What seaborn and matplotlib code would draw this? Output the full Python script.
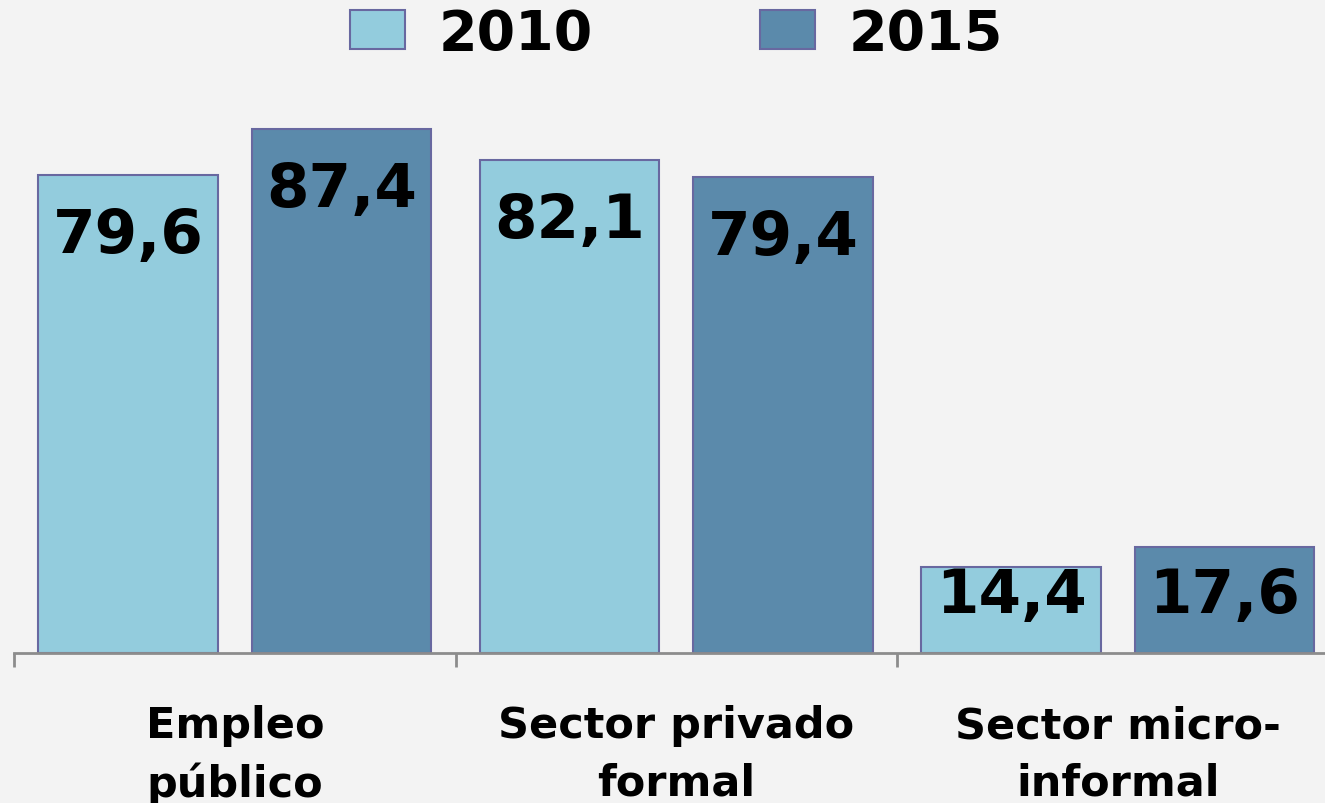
import seaborn as sns
import matplotlib.pyplot as plt
import pandas as pd

# data
categories = ["Empleo\npúblico", "Sector privado\nformal", "Sector micro-\ninformal"]
years = ["2010", "2015"]
vals_2010 = [79.6, 82.1, 14.4]
vals_2015 = [87.4, 79.4, 17.6]

df = pd.DataFrame({
    "cat": categories * 2,
    "year": [years[0]] * 3 + [years[1]] * 3,
    "val": vals_2010 + vals_2015,
})

bg = "#F3F3F3"
colors = {"2010": "#93CCDD", "2015": "#5B8AAB"}
edge = "#6868A0"

sns.set_theme(style="white")
plt.rcParams["font.family"] = ["DejaVu Sans"]

fig = plt.figure(figsize=(13.25, 8.04), dpi=100)
fig.patch.set_facecolor(bg)
W, H = 1325, 804
ax = fig.add_axes([14 / W, (H - 654) / H, 1324.5 / W, 600 / H])
ax.set_facecolor(bg)

sns.barplot(data=df, x="cat", y="val", hue="year", palette=colors,
            width=0.967, gap=0.16, edgecolor=edge, linewidth=1.5,
            saturation=1, ax=ax, legend=True)

ax.set_xlim(-0.5, 2.5)
ax.set_ylim(0, 100)
ax.set_xlabel("")
ax.set_ylabel("")
ax.set_yticks([])

# value labels inside bars
for cont in ax.containers:
    for bar in cont:
        v = bar.get_height()
        cx = bar.get_x() + bar.get_width() / 2
        ax.text(cx, max(v - 10.1, 9.6), f"{v:.1f}".replace(".", ","),
                ha="center", va="center", fontsize=44, fontweight="bold",
                color="black")

# axis styling
for s in ["top", "right", "left"]:
    ax.spines[s].set_visible(False)
ax.spines["bottom"].set_color("#8C8C8C")
ax.spines["bottom"].set_linewidth(2)
ax.set_xticks([0, 1, 2])
ax.set_xticklabels(categories, fontsize=31, fontweight="bold", color="black",
                   linespacing=1.45)
ax.tick_params(axis="x", which="major", length=0, pad=37)
ax.set_xticks([-0.5, 0.5, 1.5, 2.5], minor=True)
ax.tick_params(axis="x", which="minor", length=10, width=2, color="#8C8C8C",
               direction="out", bottom=True)

leg = ax.legend(loc="upper center", bbox_to_anchor=(0.5, 1.16), ncol=2,
                frameon=False, prop={"size": 40, "weight": "bold"},
                handlelength=1.0, handleheight=0.7, handletextpad=0.6,
                columnspacing=3.0)
for t in leg.get_texts():
    t.set_color("black")

fig.savefig("out.png", dpi=100, facecolor=bg)
